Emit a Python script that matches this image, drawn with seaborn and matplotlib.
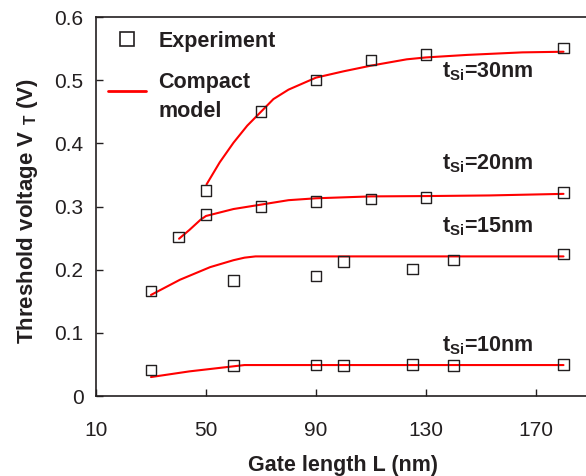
import numpy as np
import pandas as pd
import seaborn as sns
import matplotlib
matplotlib.use("Agg")
import matplotlib.pyplot as plt
from matplotlib.lines import Line2D
from matplotlib.legend_handler import HandlerLine2D

# ---- data ----
# Experiment points
exp30_L = [50, 70, 90, 110, 130, 180]
exp30_V = [0.325, 0.450, 0.500, 0.532, 0.541, 0.551]
exp20_L = [40, 50, 70, 90, 110, 130, 180]
exp20_V = [0.252, 0.287, 0.300, 0.308, 0.312, 0.314, 0.322]
exp15_L = [30, 60, 90, 100, 125, 140, 180]
exp15_V = [0.166, 0.183, 0.190, 0.213, 0.201, 0.215, 0.225]
exp10_L = [30, 60, 90, 100, 125, 140, 180]
exp10_V = [0.041, 0.048, 0.049, 0.048, 0.050, 0.048, 0.050]

# Compact model curves
mod30_L = [50.2, 55, 60, 65, 70, 74.5, 80, 90, 100, 110, 123, 130, 145, 165, 180]
mod30_V = [0.335, 0.370, 0.401, 0.428, 0.450, 0.470, 0.485, 0.504, 0.514, 0.523,
           0.533, 0.536, 0.540, 0.544, 0.545]
mod20_L = [40.2, 44, 48, 50, 60, 70, 80, 90, 110, 130, 153, 180]
mod20_V = [0.249, 0.263, 0.279, 0.285, 0.296, 0.303, 0.310, 0.313, 0.316, 0.3165,
           0.3175, 0.320]
mod15_L = [30, 40.5, 51.5, 60, 64, 68, 90, 130, 180]
mod15_V = [0.160, 0.184, 0.204, 0.215, 0.219, 0.221, 0.221, 0.221, 0.221]
mod10_L = [30, 44, 60, 64, 90, 130, 180]
mod10_V = [0.030, 0.039, 0.047, 0.049, 0.049, 0.049, 0.049]

series_names = ["30nm", "20nm", "15nm", "10nm"]
x_ticks = [10, 50, 90, 130, 170]
y_ticks = [0, 0.1, 0.2, 0.3, 0.4, 0.5, 0.6]

exp_df = pd.concat([
    pd.DataFrame({"L": l, "V": v, "tsi": n})
    for l, v, n in zip([exp30_L, exp20_L, exp15_L, exp10_L],
                       [exp30_V, exp20_V, exp15_V, exp10_V], series_names)
])
mod_df = pd.concat([
    pd.DataFrame({"L": l, "V": v, "tsi": n})
    for l, v, n in zip([mod30_L, mod20_L, mod15_L, mod10_L],
                       [mod30_V, mod20_V, mod15_V, mod10_V], series_names)
])

sns.set_style("ticks")
plt.rcParams["font.family"] = ["Liberation Sans", "DejaVu Sans"]
plt.rcParams["mathtext.default"] = "regular"
TXT = "#231f20"
BOLD = 15.5

fig = plt.figure(figsize=(5.86, 4.76), dpi=100)
ax = fig.add_axes([96 / 586, 80 / 476, 495 / 586, 379 / 476])

sns.lineplot(data=mod_df, x="L", y="V", units="tsi", estimator=None,
             color="#ff0000", linewidth=1.5, ax=ax, legend=False, sort=True)
sns.scatterplot(data=exp_df, x="L", y="V", marker="s", s=58,
                color=TXT, facecolors="none", edgecolor=TXT, linewidth=1.0,
                ax=ax, legend=False, zorder=3)

ax.set_xlim(10, 190)
ax.set_ylim(0, 0.6)
ax.set_xticks(x_ticks)
ax.set_yticks(y_ticks)
ax.set_xticklabels([str(t) for t in x_ticks])
ax.set_yticklabels(["0", "0.1", "0.2", "0.3", "0.4", "0.5", "0.6"])
ax.tick_params(direction="in", length=5, width=1, colors=TXT, labelsize=15,
               pad=9)
ax.tick_params(axis="x", pad=18)
for s in ax.spines.values():
    s.set_color(TXT)
    s.set_linewidth(1.2)

ax.set_xlabel("Gate length L (nm)", fontsize=BOLD, fontweight="bold", color=TXT,
              labelpad=11)
ax.set_ylabel("Threshold voltage V $_\\mathregular{T}$ (V)", fontsize=16,
              fontweight="bold", color=TXT)
ax.yaxis.set_label_coords(-0.114, 0.487)

labels_pos = [(136, 0.505, "30nm"), (136, 0.359, "20nm"),
              (136, 0.259, "15nm"), (136, 0.070, "10nm")]
for x, y, n in labels_pos:
    ax.text(x, y, "t$_\\mathregular{Si}$=" + n, fontsize=BOLD, fontweight="bold",
            color=TXT, va="baseline", ha="left")


class ShiftedLine(HandlerLine2D):
    def create_artists(self, legend, orig_handle, xdescent, ydescent, width,
                       height, fontsize, trans):
        arts = super().create_artists(legend, orig_handle, xdescent, ydescent,
                                      width, height, fontsize, trans)
        for a in arts:
            a.set_ydata(np.asarray(a.get_ydata(), dtype=float) + 5.3)
        return arts


red_handle = Line2D([], [], color="#ff0000", linewidth=2.0)
handles = [
    Line2D([], [], marker="s", linestyle="none", markersize=9.5,
           markerfacecolor="none", markeredgecolor=TXT, markeredgewidth=1.2),
    red_handle,
]
leg = ax.legend(handles, ["Experiment", "Compact\nmodel"], loc="upper left",
                bbox_to_anchor=(12 / 495, 0.963), frameon=False, borderpad=0,
                borderaxespad=0, handlelength=1.75, handletextpad=0.6,
                labelspacing=0.95,
                handler_map={red_handle: ShiftedLine()},
                prop={"size": BOLD, "weight": "bold"})
for t in leg.get_texts():
    t.set_color(TXT)
    t.set_linespacing(1.5)

fig.savefig("out.png", dpi=100)
